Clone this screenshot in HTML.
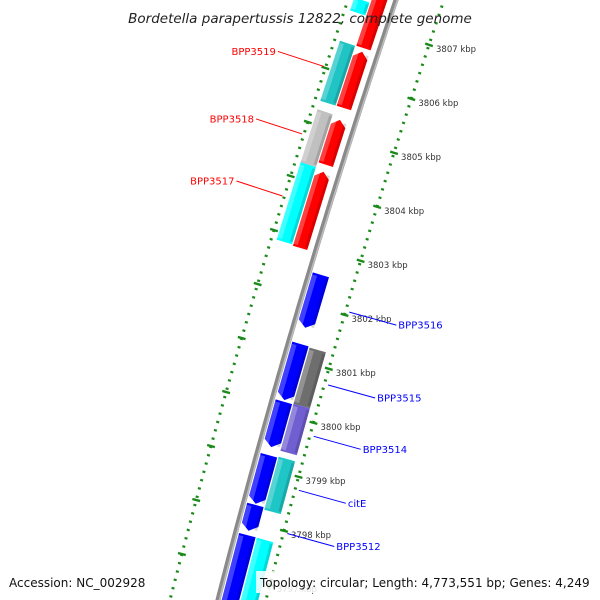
<!DOCTYPE html>
<html><head><meta charset="utf-8"><style>
html,body{margin:0;padding:0;background:#fff;}
svg{display:block;}
</style></head><body>
<svg id="map" width="600" height="600" viewBox="0 0 600 600" xmlns="http://www.w3.org/2000/svg">
<g id="rings"></g>
<g id="backbone"></g>
<g id="genes"></g>
<g id="labels"></g>
<text x="300" y="23" text-anchor="middle" font-family="DejaVu Sans, sans-serif" font-style="italic" font-size="13.5" fill="#222">Bordetella parapertussis 12822, complete genome</text>
<rect x="4" y="571" width="142" height="22" fill="#fff" opacity="0.85"/>
<text x="9" y="587" font-family="DejaVu Sans, sans-serif" font-size="12" fill="#111">Accession: NC_002928</text>
<rect x="256" y="571" width="340" height="22" fill="#fff" opacity="0.85"/>
<text x="260" y="587" font-family="DejaVu Sans, sans-serif" font-size="12" fill="#111">Topology: circular; Length: 4,773,551 bp; Genes: 4,249</text>
</svg>
<script>
// gene data (kbp)
const geneNames = ["g1","BPP3519","BPP3518","BPP3517","r1","r2","r3","r4","BPP3516","b2","b3","b4","BPP3512","b6","BPP3515","BPP3514","citE","o4"];
const geneStart = [3807.83,3807.03,3805.76,3804.78,3808.0,3806.87,3805.61,3804.65,3802.74,3801.46,3800.39,3799.40,3798.48,3797.92,3801.35,3800.31,3799.33,3797.83];
const geneEnd   = [3807.59,3805.92,3804.78,3803.35,3806.94,3805.83,3804.78,3803.24,3801.76,3800.42,3799.55,3798.50,3798.00,3796.5,3800.31,3799.44,3798.35,3796.5];
const geneColumn= [-2,-2,-2,-2,-1,-1,-1,-1,1,1,1,1,1,1,2,2,2,2];
const geneColor = ["#00ffff","#20c4c4","#c0c0c0","#00ffff","#ff0000","#ff0000","#ff0000","#ff0000","#0000ff","#0000ff","#0000ff","#0000ff","#0000ff","#0000ff","#6e6e6e","#6f5fd0","#1ec6c6","#00ffff"];
const tickKbp = [3807,3806,3805,3804,3803,3802,3801,3800,3799,3798,3797];
const tickLabels = ["3807 kbp","3806 kbp","3805 kbp","3804 kbp","3803 kbp","3802 kbp","3801 kbp","3800 kbp","3799 kbp","3798 kbp","3797 kbp"];
const labelNames = ["BPP3519","BPP3518","BPP3517","BPP3516","BPP3515","BPP3514","citE","BPP3512"];
const labelKbp = [3806.6,3805.35,3804.2,3802.05,3800.7,3799.75,3798.75,3797.95];
const labelSide = [-1,-1,-1,1,1,1,1,1];

const NS="http://www.w3.org/2000/svg";
function kY(k){return (3807.83-k)*54;}
function X(y){return 396-0.3373*y+0.0000676*y*y;}
// base point at horizontal offset dc from backbone at height y, then dd along normal
function pt(y,dc,dd){dd=dd||0;const s=-0.3373+2*0.0000676*y;const n=Math.sqrt(1+s*s);return [X(y)+dc+dd/n, y - dd*s/n];}
function P(a){return a[0].toFixed(1)+","+a[1].toFixed(1);}
function mk(tag,attrs,parent){const e=document.createElementNS(NS,tag);for(const k in attrs)e.setAttribute(k,attrs[k]);parent.appendChild(e);return e;}

// backbone
const bb=document.getElementById('backbone');
let dpath="";for(let y=-10;y<=610;y+=5){dpath+=(y==-10?"M":"L")+P(pt(y,0));}
const bl=mk('path',{d:dpath,stroke:'#8a8a8a','stroke-width':5,fill:'none'},bb);


const bl2=mk('path',{d:dpath,stroke:'#bdbdbd','stroke-width':1.5,fill:'none',transform:'translate(1.5,0)'},bb);



// rings
const rg=document.getElementById('rings');
for(let y=-10;y<=610;y+=54/6.5){
  for(const d of [-48,48]){
    const a=pt(y,d,-1.5),b=pt(y,d,1.5);
    const l=mk('line',{x1:a[0],y1:a[1],x2:b[0],y2:b[1],stroke:'#1a8a1a','stroke-width':2.2},rg);
    
    
  }
}
for(let i=0;i<tickKbp.length;i++){
  const y=kY(tickKbp[i]);
  const a=pt(y,48,-4),b=pt(y,48,4);
  const l=mk('line',{x1:a[0],y1:a[1],x2:b[0],y2:b[1],stroke:'#1a8a1a','stroke-width':2.4},rg);
  
  
  const yl=kY(tickKbp[i]-0.43);
  const c=pt(yl,-48,-4),e=pt(yl,-48,4);
  const l2=mk('line',{x1:c[0],y1:c[1],x2:e[0],y2:e[1],stroke:'#1a8a1a','stroke-width':2.4},rg);
  
  
  const p=pt(y,48);
  const t=mk('text',{x:p[0]+7,y:p[1]+7,'font-family':'DejaVu Sans, sans-serif','font-size':'8.5',fill:'#333'},rg);
  t.textContent=tickLabels[i];
  
  
}

// genes
const cols={"-2":[-42,-26],"-1":[-24,-9],"1":[4,21],"2":[23,40]};
const gg=document.getElementById('genes');
for(let i=0;i<geneNames.length;i++){
  const [d1,d2]=cols[geneColumn[i]];
  const dc=(d1+d2)/2, h1=d1-dc, h2=d2-dc;
  const ya=kY(geneStart[i]), yb=kY(geneEnd[i]);
  let pts;
  if(geneColumn[i]==-1){
    pts=[pt(yb,dc,h1),pt(ya+6,dc,h1),pt(ya,dc,0),pt(ya+6,dc,h2),pt(yb,dc,h2)];
  } else if(geneColumn[i]==1){
    pts=[pt(ya,dc,h1),pt(yb-6,dc,h1),pt(yb,dc,0),pt(yb-6,dc,h2),pt(ya,dc,h2)];
  } else {
    pts=[pt(ya,dc,h1),pt(yb,dc,h1),pt(yb,dc,h2),pt(ya,dc,h2)];
  }
  const poly=mk('polygon',{points:pts.map(P).join(' '),fill:geneColor[i]},gg);
  
  
  const hh=h1+(h2-h1)*0.3;
  const hp=[pt(ya+2,dc,h1),pt(yb-2,dc,h1),pt(yb-2,dc,hh),pt(ya+2,dc,hh)];
  const h=mk('polygon',{points:hp.map(P).join(' '),fill:'#fff',opacity:0.25},gg);
  
  
  const sp=[pt(ya+2,dc,h2-3),pt(yb-2,dc,h2-3),pt(yb-2,dc,h2),pt(ya+2,dc,h2)];
  const s=mk('polygon',{points:sp.map(P).join(' '),fill:'#000',opacity:0.15},gg);
  
  
}

// labels
const lg=document.getElementById('labels');
for(let i=0;i<labelNames.length;i++){
  const y=kY(labelKbp[i]);
  const col=labelSide[i]<0?'#ff0000':'#0000ff';
  let a,b,tx,anchor;
  if(labelSide[i]<0){a=pt(y,-50);b=[a[0]-46,a[1]-15];tx=b[0]-2;anchor='end';}
  else{a=pt(y,52);b=[a[0]+47,a[1]+13];tx=b[0]+2;anchor='start';}
  const l=mk('line',{x1:a[0],y1:a[1],x2:b[0],y2:b[1],stroke:col,'stroke-width':1},lg);
  
  
  const t=mk('text',{x:tx,y:b[1]+3.5,'text-anchor':anchor,'font-family':'DejaVu Sans, sans-serif','font-size':'10',fill:col},lg);
  t.textContent=labelNames[i];
  
  
}
</script>
</body></html>
